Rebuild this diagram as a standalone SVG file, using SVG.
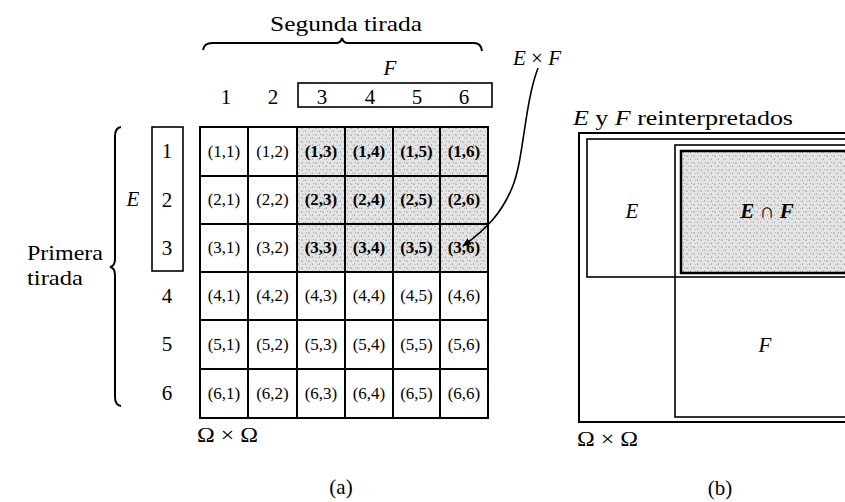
<svg xmlns="http://www.w3.org/2000/svg" width="845" height="502" viewBox="0 0 845 502">
<defs>
<pattern id="dots" width="7" height="7" patternUnits="userSpaceOnUse">
<rect width="7" height="7" fill="#e4e4e4"/>
<circle cx="1" cy="2" r="0.6" fill="#555"/>
<circle cx="4.5" cy="5" r="0.6" fill="#777"/>
<circle cx="5.5" cy="1.5" r="0.5" fill="#999"/>
<circle cx="2.5" cy="5.5" r="0.4" fill="#888"/>
</pattern>
<marker id="ah" viewBox="0 0 10 10" refX="9" refY="5" markerWidth="9" markerHeight="9" orient="auto" markerUnits="userSpaceOnUse">
<path d="M0,1 L10,5 L0,9 Z" fill="#000"/>
</marker>
<style>
text{font-family:"Liberation Serif","Times New Roman",serif;fill:#000}
.cell{fill:#fff;stroke:#000;stroke-width:2}
.sh{fill:url(#dots);stroke:#000;stroke-width:2}
.ct{font-size:17px;text-anchor:middle}
.cb{font-size:17px;text-anchor:middle;font-weight:bold}
.num{font-size:21px;text-anchor:middle}
.it{font-style:italic}
.lbl{font-size:21px}
.box{fill:none;stroke:#000;stroke-width:1.6}
</style>
</defs>
<rect width="845" height="502" fill="#fff"/>

<!-- Part (a) headers -->
<g id="segunda">
<text x="346" y="31" class="lbl" text-anchor="middle" textLength="152" lengthAdjust="spacingAndGlyphs">Segunda tirada</text>
<path d="M203,50 Q204,43 212,43 L336,43 Q341,43 342,38 Q343,43 348,43 L474,43 Q481,43 482,51" fill="none" stroke="#000" stroke-width="2"/>
</g>
<g id="Fset">
<rect x="298" y="83" width="194" height="24" class="box"/>
<text x="390" y="75" class="lbl it" text-anchor="middle">F</text>
</g>
<g id="colnums">
<text x="226" y="104" class="num">1</text>
<text x="273" y="104" class="num">2</text>
<text x="322" y="104" class="num">3</text>
<text x="370" y="104" class="num">4</text>
<text x="417" y="104" class="num">5</text>
<text x="464" y="104" class="num">6</text>
</g>
<g id="primera">
<text x="27" y="260" class="lbl" textLength="76" lengthAdjust="spacingAndGlyphs">Primera</text>
<text x="27" y="285" class="lbl" textLength="56" lengthAdjust="spacingAndGlyphs">tirada</text>
<path d="M121,127 Q115,128 115,136 L115,259 Q115,266 110,267 Q115,268 115,275 L115,397 Q115,405 121,406" fill="none" stroke="#000" stroke-width="2"/>
</g>
<g id="Eset">
<rect x="152" y="127" width="31" height="144" class="box"/>
<text x="133" y="206" class="lbl it" text-anchor="middle">E</text>
</g>
<g id="rownums">
<text x="167" y="158" class="num">1</text>
<text x="167" y="207" class="num">2</text>
<text x="167" y="255" class="num">3</text>
<text x="167" y="303" class="num">4</text>
<text x="167" y="351" class="num">5</text>
<text x="167" y="400" class="num">6</text>
</g>

<!-- Grid -->
<g id="grid">
<g id="c11"><rect x="200" y="127" width="48" height="49" class="cell"/><text x="224" y="157" class="ct">(1,1)</text></g>
<g id="c12"><rect x="248" y="127" width="49" height="49" class="cell"/><text x="272.5" y="157" class="ct">(1,2)</text></g>
<g id="c13"><rect x="297" y="127" width="48" height="49" class="sh"/><text x="321" y="157" class="cb">(1,3)</text></g>
<g id="c14"><rect x="345" y="127" width="48" height="49" class="sh"/><text x="369" y="157" class="cb">(1,4)</text></g>
<g id="c15"><rect x="393" y="127" width="47" height="49" class="sh"/><text x="416.5" y="157" class="cb">(1,5)</text></g>
<g id="c16"><rect x="440" y="127" width="48" height="49" class="sh"/><text x="464" y="157" class="cb">(1,6)</text></g>

<g id="c21"><rect x="200" y="176" width="48" height="48" class="cell"/><text x="224" y="205" class="ct">(2,1)</text></g>
<g id="c22"><rect x="248" y="176" width="49" height="48" class="cell"/><text x="272.5" y="205" class="ct">(2,2)</text></g>
<g id="c23"><rect x="297" y="176" width="48" height="48" class="sh"/><text x="321" y="205" class="cb">(2,3)</text></g>
<g id="c24"><rect x="345" y="176" width="48" height="48" class="sh"/><text x="369" y="205" class="cb">(2,4)</text></g>
<g id="c25"><rect x="393" y="176" width="47" height="48" class="sh"/><text x="416.5" y="205" class="cb">(2,5)</text></g>
<g id="c26"><rect x="440" y="176" width="48" height="48" class="sh"/><text x="464" y="205" class="cb">(2,6)</text></g>

<g id="c31"><rect x="200" y="224" width="48" height="48" class="cell"/><text x="224" y="253" class="ct">(3,1)</text></g>
<g id="c32"><rect x="248" y="224" width="49" height="48" class="cell"/><text x="272.5" y="253" class="ct">(3,2)</text></g>
<g id="c33"><rect x="297" y="224" width="48" height="48" class="sh"/><text x="321" y="253" class="cb">(3,3)</text></g>
<g id="c34"><rect x="345" y="224" width="48" height="48" class="sh"/><text x="369" y="253" class="cb">(3,4)</text></g>
<g id="c35"><rect x="393" y="224" width="47" height="48" class="sh"/><text x="416.5" y="253" class="cb">(3,5)</text></g>
<g id="c36"><rect x="440" y="224" width="48" height="48" class="sh"/><text x="464" y="253" class="cb">(3,6)</text></g>

<g id="c41"><rect x="200" y="272" width="48" height="48" class="cell"/><text x="224" y="301" class="ct">(4,1)</text></g>
<g id="c42"><rect x="248" y="272" width="49" height="48" class="cell"/><text x="272.5" y="301" class="ct">(4,2)</text></g>
<g id="c43"><rect x="297" y="272" width="48" height="48" class="cell"/><text x="321" y="301" class="ct">(4,3)</text></g>
<g id="c44"><rect x="345" y="272" width="48" height="48" class="cell"/><text x="369" y="301" class="ct">(4,4)</text></g>
<g id="c45"><rect x="393" y="272" width="47" height="48" class="cell"/><text x="416.5" y="301" class="ct">(4,5)</text></g>
<g id="c46"><rect x="440" y="272" width="48" height="48" class="cell"/><text x="464" y="301" class="ct">(4,6)</text></g>

<g id="c51"><rect x="200" y="320" width="48" height="49" class="cell"/><text x="224" y="350" class="ct">(5,1)</text></g>
<g id="c52"><rect x="248" y="320" width="49" height="49" class="cell"/><text x="272.5" y="350" class="ct">(5,2)</text></g>
<g id="c53"><rect x="297" y="320" width="48" height="49" class="cell"/><text x="321" y="350" class="ct">(5,3)</text></g>
<g id="c54"><rect x="345" y="320" width="48" height="49" class="cell"/><text x="369" y="350" class="ct">(5,4)</text></g>
<g id="c55"><rect x="393" y="320" width="47" height="49" class="cell"/><text x="416.5" y="350" class="ct">(5,5)</text></g>
<g id="c56"><rect x="440" y="320" width="48" height="49" class="cell"/><text x="464" y="350" class="ct">(5,6)</text></g>

<g id="c61"><rect x="200" y="369" width="48" height="49" class="cell"/><text x="224" y="399" class="ct">(6,1)</text></g>
<g id="c62"><rect x="248" y="369" width="49" height="49" class="cell"/><text x="272.5" y="399" class="ct">(6,2)</text></g>
<g id="c63"><rect x="297" y="369" width="48" height="49" class="cell"/><text x="321" y="399" class="ct">(6,3)</text></g>
<g id="c64"><rect x="345" y="369" width="48" height="49" class="cell"/><text x="369" y="399" class="ct">(6,4)</text></g>
<g id="c65"><rect x="393" y="369" width="47" height="49" class="cell"/><text x="416.5" y="399" class="ct">(6,5)</text></g>
<g id="c66"><rect x="440" y="369" width="48" height="49" class="cell"/><text x="464" y="399" class="ct">(6,6)</text></g>
</g>

<g id="omega-a"><text x="197" y="442" class="lbl" textLength="61" lengthAdjust="spacingAndGlyphs">Ω × Ω</text></g>
<g id="cap-a"><text x="341" y="494" class="lbl" text-anchor="middle">(a)</text></g>

<g id="ExF-label">
<text x="513" y="65" class="lbl"><tspan class="it">E</tspan> × <tspan class="it">F</tspan></text>
</g>

<g id="connectors">
<path d="M538,68 C524,105 524,160 512,188 C502,212 488,228 463,246" fill="none" stroke="#000" stroke-width="1.6" marker-end="url(#ah)"/>
</g>

<!-- Part (b) -->
<g id="b-title"><text x="573" y="125" class="lbl" textLength="220" lengthAdjust="spacingAndGlyphs"><tspan class="it">E</tspan> y <tspan class="it">F</tspan> reinterpretados</text></g>
<g id="omega-b">
<rect x="579" y="133" width="300" height="289" fill="none" stroke="#000" stroke-width="2"/>
<text x="577" y="446" class="lbl" textLength="61" lengthAdjust="spacingAndGlyphs">Ω × Ω</text>
</g>
<g id="b-E">
<rect x="587" y="139" width="290" height="138" fill="none" stroke="#000" stroke-width="1.6"/>
<text x="632" y="218" class="lbl it" text-anchor="middle">E</text>
</g>
<g id="b-F">
<rect x="675" y="145" width="200" height="272" fill="none" stroke="#000" stroke-width="1.6"/>
<text x="765" y="352" class="lbl it" text-anchor="middle">F</text>
</g>
<g id="b-EF">
<rect x="681" y="151" width="190" height="122" fill="url(#dots)" stroke="#000" stroke-width="2.5"/>
<text x="767" y="218" class="lbl" text-anchor="middle" font-weight="bold"><tspan class="it">E</tspan> ∩ <tspan class="it">F</tspan></text>
</g>
<g id="cap-b"><text x="720" y="495" class="lbl" text-anchor="middle">(b)</text></g>
</svg>
